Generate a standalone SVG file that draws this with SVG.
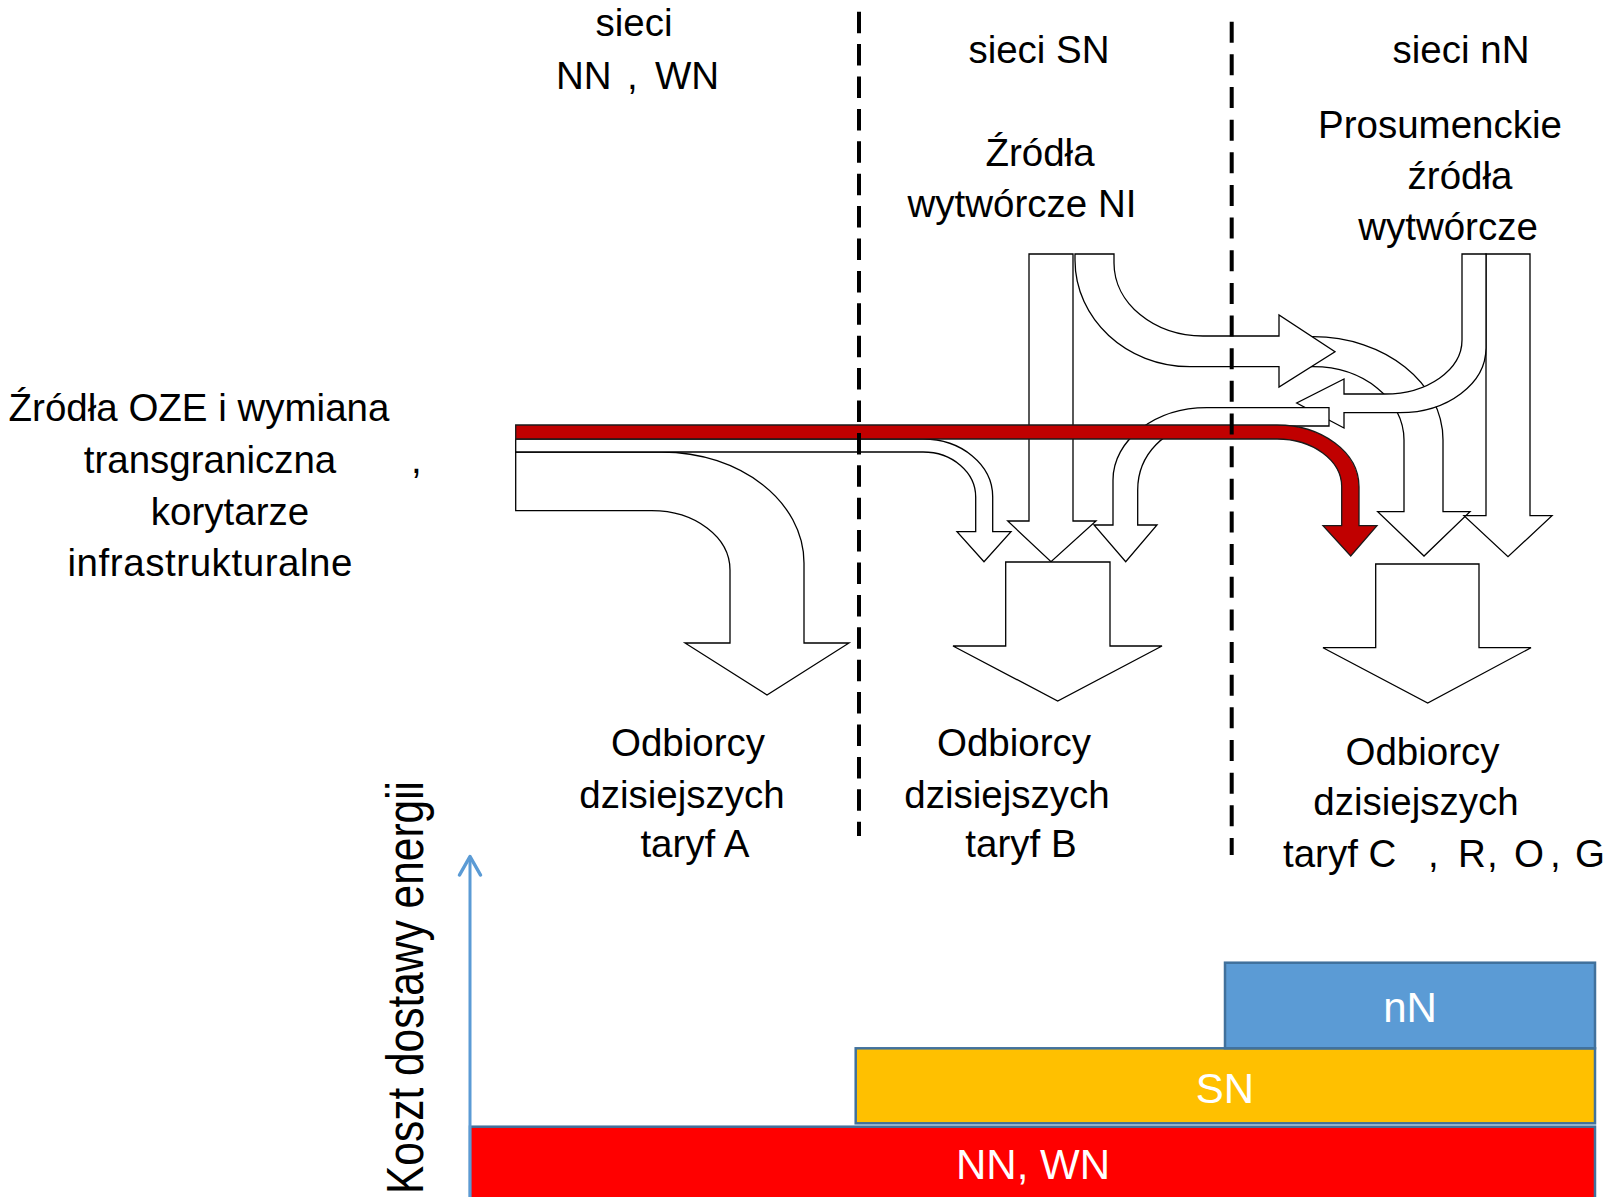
<svg xmlns="http://www.w3.org/2000/svg" width="1607" height="1197" viewBox="0 0 1607 1197">
<style>
.bg{fill:#fff}
.flow{fill:#fff;stroke:#000;stroke-width:1.3;stroke-linejoin:miter}
.hot{fill:#C00000;stroke:#1a1a1a;stroke-width:1.3}
.dash{fill:none;stroke:#000;stroke-width:4}
.t{font-family:"Liberation Sans",Arial,sans-serif;font-size:38.5px;fill:#000;text-anchor:middle}
.ts{font-family:"Liberation Sans",Arial,sans-serif;font-size:38.5px;fill:#000}
.bar{stroke:#41719C;stroke-width:2.5}
.bt{font-family:"Liberation Sans",Arial,sans-serif;font-size:42px;fill:#fff;text-anchor:middle}
</style>
<rect class="bg" x="0" y="0" width="1607" height="1197"/>

<g id="connectors">
  <path id="arrow-A" class="flow" d="M515.7,452 H661.7 C740.3,452 804,501.7 804,563 V643 H849 L767,695 L685,643 H730 V570 C730,537.2 695,510.7 651.7,510.7 H515.7 Z"/>
  <path id="arrow-toB" class="flow" d="M515.7,439 H923 C961.5,439 992.7,464.8 992.7,496.7 V531.7 H1011 L984,561.7 L957,531.7 H975.7 V497 C975.7,472.1 952.1,452 923,452 H515.7 Z"/>
  <path id="arrow-SN" class="flow" d="M1029,254 H1073 V521 H1096 L1051,561.7 L1007.7,521 H1029 Z"/>
  <path id="arrow-midC" class="flow" d="M1290,336.7 H1313 C1384.8,336.7 1443,383 1443,440 V511.7 H1470 L1424,556 L1377.7,511.7 H1404 V440 C1404,399.5 1363.3,366.7 1313,366.7 H1290 Z"/>
  <path id="arrow-NI" class="flow" d="M1075,254 H1114 V263 C1114,303.3 1153.8,336 1203,336 H1279 V315 L1335,351.7 L1279,387 V366.7 H1190 C1126.5,366.7 1075,319 1075,260 Z"/>
  <path id="arrow-right" class="flow" d="M1486,254 H1530 V515.7 H1552 L1508,556.7 L1464,515.7 H1486 Z"/>
  <path id="arrow-pros" class="flow" d="M1462,254 H1486 V348 C1486,383.7 1447.5,412.7 1400,412.7 H1344 V428 L1296.7,403 L1344,379 V394 H1385 C1427.5,394 1462,369.8 1462,340 Z"/>
  <path id="arrow-back" class="flow" d="M1329,407.7 H1207 C1155.1,407.7 1113,440.1 1113,480 V525 H1094 L1125.7,561.7 L1157,525 H1137.7 V490 C1137.7,454.7 1165.6,426 1200,426 H1329 Z"/>
  <path id="collector-B" class="flow" d="M1005.7,562 H1110 V646 H1162 L1057.7,701 L953,646 H1005.7 Z"/>
  <path id="collector-C" class="flow" d="M1375.7,564 H1479 V647.7 H1531 L1427.7,703 L1323,647.7 H1375.7 Z"/>
  <path id="arrow-red" class="hot" d="M515.7,425 H1277 C1322.3,425 1359,452.6 1359,486.7 V525.7 H1377 L1350.7,556 L1323,525.7 H1341.7 V486.7 C1341.7,460.4 1312.7,439 1277,439 H515.7 Z"/>
</g>

<g id="dividers">
  <line class="dash" x1="859" y1="11.7" x2="859" y2="836" stroke-dasharray="21.5 10.9"/>
  <line class="dash" x1="1231.7" y1="21.7" x2="1231.7" y2="855" stroke-dasharray="21 11.65"/>
</g>

<g id="label-NN-WN">
  <text class="t" x="634" y="36">sieci</text>
  <text class="ts" y="89"><tspan x="556">NN</tspan><tspan x="627">,</tspan><tspan x="655">WN</tspan></text>
</g>
<g id="label-SN">
  <text class="t" x="1039" y="63">sieci SN</text>
  <text class="t" x="1040" y="166">Źródła</text>
  <text class="t" x="1022" y="217">wytwórcze NI</text>
</g>
<g id="label-nN">
  <text class="t" x="1461" y="63">sieci nN</text>
  <text class="t" x="1440" y="137.5">Prosumenckie</text>
  <text class="t" x="1460" y="188.6">źródła</text>
  <text class="t" x="1448" y="240">wytwórcze</text>
</g>
<g id="label-sources">
  <text class="t" x="199" y="421">Źródła OZE i wymiana</text>
  <text class="t" x="210" y="473">transgraniczna</text>
  <text class="ts" x="411" y="473">,</text>
  <text class="t" x="230" y="525">korytarze</text>
  <text class="t" x="210" y="576" textLength="285" lengthAdjust="spacing">infrastrukturalne</text>
</g>
<g id="label-A">
  <text class="t" x="688" y="756.4">Odbiorcy</text>
  <text class="t" x="682" y="808.3">dzisiejszych</text>
  <text class="t" x="695" y="856.7">taryf A</text>
</g>
<g id="label-B">
  <text class="t" x="1014" y="756.4">Odbiorcy</text>
  <text class="t" x="1007" y="808.3">dzisiejszych</text>
  <text class="t" x="1021" y="856.7">taryf B</text>
</g>
<g id="label-C">
  <text class="t" x="1422.5" y="765">Odbiorcy</text>
  <text class="t" x="1416" y="815">dzisiejszych</text>
  <text class="ts" y="866.7"><tspan x="1283">taryf C</tspan><tspan x="1428">,</tspan><tspan x="1458">R</tspan><tspan x="1487">,</tspan><tspan x="1514">O</tspan><tspan x="1550">,</tspan><tspan x="1575">G</tspan></text>
</g>

<g id="cost-chart">
  <rect id="bar-NNWN" class="bar" x="470" y="1126.7" width="1125" height="80" fill="#FF0000"/>
  <rect id="bar-SN" class="bar" x="855.7" y="1048.3" width="739.3" height="75" fill="#FFC000"/>
  <rect id="bar-nN" class="bar" x="1225" y="962.7" width="370" height="85.6" fill="#5B9BD5"/>
  <text class="bt" x="1033" y="1179.3">NN, WN</text>
  <text class="bt" x="1225" y="1103.3">SN</text>
  <text class="bt" x="1410" y="1021.7">nN</text>
  <line x1="470" y1="1197" x2="470" y2="858" stroke="#5B9BD5" stroke-width="3"/>
  <polyline points="459.5,875 470,856.5 480.5,875" fill="none" stroke="#5B9BD5" stroke-width="3.5" stroke-linecap="round" stroke-linejoin="round"/>
  <text class="ts" transform="translate(423,1194) rotate(-90)" x="0" y="0" style="font-size:52px" textLength="413" lengthAdjust="spacingAndGlyphs">Koszt dostawy energii</text>
</g>
</svg>
